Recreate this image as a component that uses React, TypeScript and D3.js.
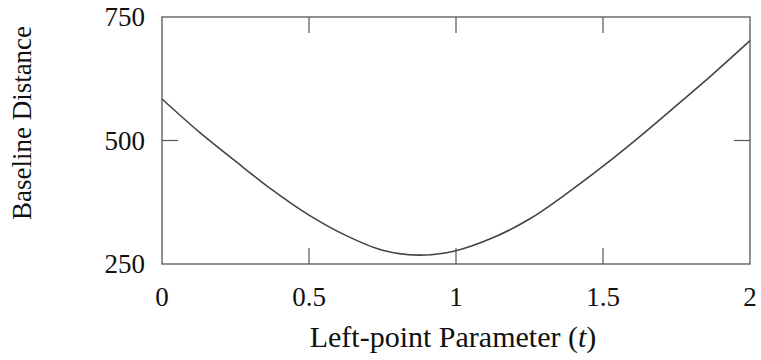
import React from "react";
import * as d3 from "d3";

// Baseline distance as a function of the left-point parameter t
const tValues = [0, 0.125, 0.25, 0.375, 0.5, 0.625, 0.75, 0.875, 1.0, 1.125, 1.25, 1.375, 1.5, 1.625, 1.75, 1.875, 2.0];
const distances = [584, 518, 458, 400, 349, 308, 278, 268, 277, 303, 341, 392, 448, 508, 571, 635, 702];

const xTicks = [0, 0.5, 1, 1.5, 2];
const xTickLabels = ["0", "0.5", "1", "1.5", "2"];
const yTicks = [250, 500, 750];
const yTickLabels = ["250", "500", "750"];

const W = 761;
const H = 360;
const left = 162;
const right = 750;
const top = 17;
const bottom = 264;
const tickLen = 16;
const font = "'Liberation Serif', 'Times New Roman', serif";
const frameColor = "#555";

export default function App() {
  const x = d3.scaleLinear().domain([0, 2]).range([left, right]);
  const y = d3.scaleLinear().domain([250, 750]).range([bottom, top]);

  const line = d3
    .line<number>()
    .x((_, i) => x(tValues[i]))
    .y((d) => y(d))
    .curve(d3.curveCatmullRom.alpha(0.5));

  return (
    <svg
      width={W}
      height={H}
      style={{ position: "absolute", left: 0, top: 0, background: "#fff" }}
    >
      {/* ticks on all four sides, pointing inward */}
      {xTicks.map((t, i) =>
        i === 0 || i === xTicks.length - 1 ? null : (
          <g key={"xt" + i} stroke={frameColor} strokeWidth={1.2}>
            <line x1={x(t)} x2={x(t)} y1={bottom} y2={bottom - tickLen} />
            <line x1={x(t)} x2={x(t)} y1={top} y2={top + tickLen} />
          </g>
        )
      )}
      {yTicks.map((v, i) =>
        i === 0 || i === yTicks.length - 1 ? null : (
          <g key={"yt" + i} stroke={frameColor} strokeWidth={1.2}>
            <line x1={left} x2={left + tickLen} y1={y(v)} y2={y(v)} />
            <line x1={right} x2={right - tickLen} y1={y(v)} y2={y(v)} />
          </g>
        )
      )}

      <path
        d={line(distances) || ""}
        fill="none"
        stroke="#444"
        strokeWidth={1.6}
      />

      <rect
        x={left}
        y={top}
        width={right - left}
        height={bottom - top}
        fill="none"
        stroke={frameColor}
        strokeWidth={1.3}
      />

      {xTicks.map((t, i) => (
        <text
          key={"xl" + i}
          x={x(t)}
          y={306}
          textAnchor="middle"
          fontFamily={font}
          fontSize={27}
          fill="#111"
        >
          {xTickLabels[i]}
        </text>
      ))}
      {yTicks.map((v, i) => (
        <text
          key={"yl" + i}
          x={145}
          y={y(v) + 9}
          textAnchor="end"
          fontFamily={font}
          fontSize={27}
          fill="#111"
        >
          {yTickLabels[i]}
        </text>
      ))}

      <text
        x={453}
        y={347}
        textAnchor="middle"
        fontFamily={font}
        fontSize={30}
        fill="#111"
      >
        Left-point Parameter (<tspan fontStyle="italic">t</tspan>)
      </text>
      <text
        transform={`translate(31,123) rotate(-90)`}
        textAnchor="middle"
        fontFamily={font}
        fontSize={27}
        fill="#111"
      >
        Baseline Distance
      </text>
    </svg>
  );
}
